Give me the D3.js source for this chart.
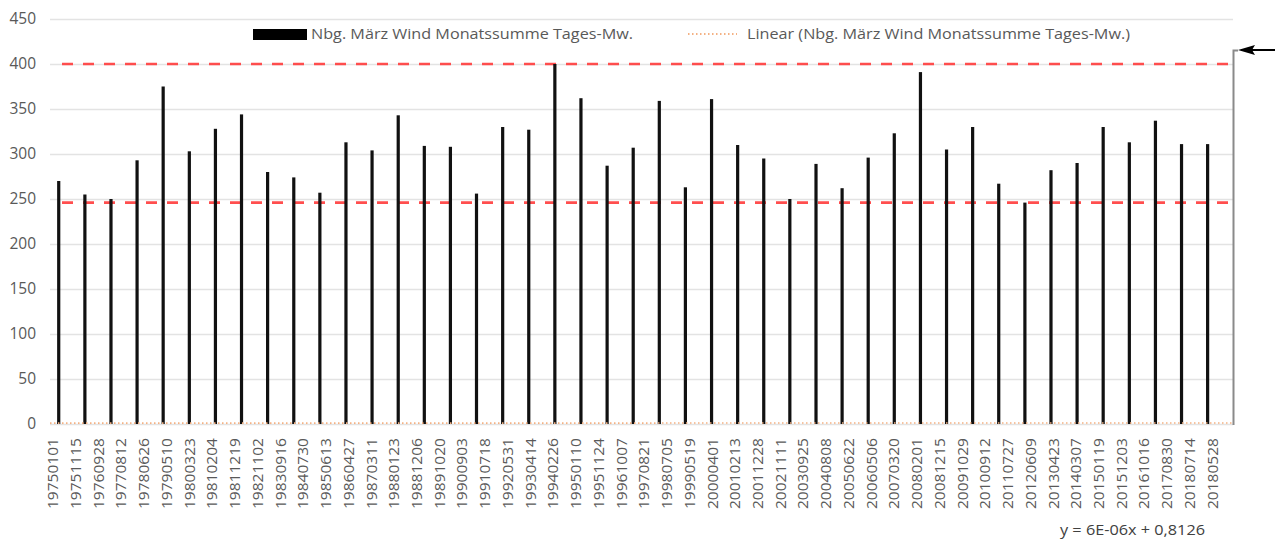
<!DOCTYPE html>
<html>
<head>
<meta charset="utf-8">
<script src="https://cdn.jsdelivr.net/npm/d3@7"></script>
<style>
  body { margin: 0; background: #fff; }
  svg { display: block; font-family: "Open Sans", sans-serif; }
</style>
</head>
<body>
<svg id="chart" width="1275" height="540"></svg>
<script>
/*
 * Nbg. März Wind – Monatssumme Tages-Mittelwerte
 * ========================================================================== */

// March of each year (bars)
const years = [1975, 1976, 1977, 1978, 1979, 1980, 1981, 1982, 1983, 1984,
               1985, 1986, 1987, 1988, 1989, 1990, 1991, 1992, 1993, 1994,
               1995, 1996, 1997, 1998, 1999, 2000, 2001, 2002, 2003, 2004,
               2005, 2006, 2007, 2008, 2009, 2010, 2011, 2012, 2013, 2014,
               2015, 2016, 2017, 2018, 2019];

const windSums = [270, 255, 250, 293, 375, 303, 328, 344, 280, 274,
                  257, 313, 304, 343, 309, 308, 256, 330, 327, 400,
                  362, 287, 307, 359, 263, 361, 310, 295, 250, 289,
                  262, 296, 323, 391, 305, 330, 267, 246, 282, 290,
                  330, 313, 337, 311, 311];

// date axis labels, as printed
const tickLabels = ['19750101', '19751115', '19760928', '19770812', '19780626', '19790510',
                    '19800323', '19810204', '19811219', '19821102', '19830916', '19840730',
                    '19850613', '19860427', '19870311', '19880123', '19881206', '19891020',
                    '19900903', '19910718', '19920531', '19930414', '19940226', '19950110',
                    '19951124', '19961007', '19970821', '19980705', '19990519', '20000401',
                    '20010213', '20011228', '20021111', '20030925', '20040808', '20050622',
                    '20060506', '20070320', '20080201', '20081215', '20091029', '20100912',
                    '20110727', '20120609', '20130423', '20140307', '20150119', '20151203',
                    '20161016', '20170830', '20180714', '20180528'];
const tickStepDays = 318;

const yTicks = [0, 50, 100, 150, 200, 250, 300, 350, 400, 450];

// red reference lines
const refLines = [400, 246];

// linear trend (x = Excel date serial)
const trendSlope = 6e-6,
      trendIntercept = 0.8126;

const legendItems = ['Nbg. März Wind Monatssumme Tages-Mw.',
                     'Linear (Nbg. März Wind Monatssumme Tages-Mw.)'];
const trendLabel = 'y = 6E-06x + 0,8126';

/*
 * Layout
 */
const LEFT = 50, RIGHT = 1233, TOP = 19, BOTTOM = 424;
const DAY = 86400000;
const textColor = '#595959';

const svg = d3.select('#chart');

const x = d3.scaleTime()
            .domain([new Date(1974, 10, 29), new Date(2020, 2, 20)])
            .range([LEFT, RIGHT]);

const y = d3.scaleLinear()
            .domain([0, 450])
            .range([BOTTOM, TOP]);

const barDate = yr => new Date(yr, 2, 31);
const excelSerial = d => (d - new Date(1899, 11, 30)) / DAY;

// Gridlines
svg.append('g')
    .attr('transform', 'translate(' + LEFT + ',0)')
    .call(d3.axisLeft(y).tickValues(yTicks).tickSize(-(RIGHT - LEFT)).tickFormat(''))
    .call(g => g.select('.domain').remove())
    .call(g => g.selectAll('line').attr('stroke', '#e3e3e3').attr('stroke-width', 1.3));

// Y axis labels
svg.append('g')
    .attr('transform', 'translate(' + 36 + ',0)')
    .call(d3.axisLeft(y).tickValues(yTicks).tickSize(0).tickPadding(0))
    .call(g => g.select('.domain').remove())
    .call(g => g.selectAll('text')
                 .attr('fill', textColor)
                 .style('font-size', '15.5px')
                 .style('font-family', '"Open Sans", sans-serif'));

// X axis labels (equally spaced date ticks)
const firstTick = d3.timeParse('%Y%m%d')(tickLabels[0]);
const lastTick = new Date(+firstTick + (tickLabels.length - 1) * tickStepDays * DAY);
const xLabel = d3.scalePoint()
                 .domain(tickLabels)
                 .range([x(firstTick), x(lastTick)]);

svg.append('g')
    .selectAll('text')
    .data(tickLabels)
  .enter().append('text')
    .attr('transform', d => 'translate(' + (xLabel(d) + 0.5) + ',438) rotate(-90)')
    .attr('text-anchor', 'end')
    .attr('dy', '0.36em')
    .attr('fill', textColor)
    .attr('textLength', 71)
    .attr('lengthAdjust', 'spacingAndGlyphs')
    .style('font-size', '15px')
    .text(d => d);

// Red dashed reference lines
svg.append('g')
    .selectAll('line')
    .data(refLines)
  .enter().append('line')
    .attr('x1', LEFT + 12)
    .attr('x2', RIGHT - 1)
    .attr('y1', d => y(d))
    .attr('y2', d => y(d))
    .attr('stroke', '#ff3b3b')
    .attr('stroke-opacity', 0.9)
    .attr('stroke-width', 2.6)
    .attr('stroke-dasharray', '11,10');

// Bars
svg.append('g')
    .selectAll('rect')
    .data(years)
  .enter().append('rect')
    .attr('x', d => x(barDate(d)) - 1.6)
    .attr('width', 3.2)
    .attr('y', (d, i) => y(windSums[i]))
    .attr('height', (d, i) => y(0) - y(windSums[i]))
    .attr('fill', '#111');

// Linear trend line
const trendDates = x.domain();
svg.append('line')
    .attr('x1', x(trendDates[0]))
    .attr('x2', x(trendDates[1]))
    .attr('y1', y(trendSlope * excelSerial(trendDates[0]) + trendIntercept))
    .attr('y2', y(trendSlope * excelSerial(trendDates[1]) + trendIntercept))
    .attr('stroke', '#f4b183')
    .attr('stroke-width', 1.6)
    .attr('stroke-dasharray', '1.5,2.5');

// Right bracket with arrow
svg.append('path')
    .attr('d', 'M' + (RIGHT + 0.5) + ',' + (BOTTOM + 1) + 'V50.5H' + (RIGHT + 5))
    .attr('fill', 'none')
    .attr('stroke', '#8a8a8a')
    .attr('stroke-width', 2);

svg.append('line')
    .attr('x1', 1275).attr('x2', RIGHT + 8)
    .attr('y1', 50).attr('y2', 50)
    .attr('stroke', '#000')
    .attr('stroke-width', 2.2);

svg.append('path')
    .attr('d', 'M' + (RIGHT + 5) + ',50L' + (RIGHT + 22) + ',45L' + (RIGHT + 19) + ',50L' + (RIGHT + 22) + ',55Z')
    .attr('fill', '#000');

// Legend
const legend = svg.append('g');
legend.append('rect')
    .attr('x', 253).attr('y', 29)
    .attr('width', 54).attr('height', 11)
    .attr('fill', '#000');
legend.append('text')
    .attr('x', 311).attr('y', 34)
    .attr('dy', '0.35em')
    .attr('fill', textColor)
    .attr('textLength', 322)
    .attr('lengthAdjust', 'spacingAndGlyphs')
    .style('font-size', '15px')
    .text(legendItems[0]);

legend.append('line')
    .attr('x1', 688).attr('x2', 737)
    .attr('y1', 34).attr('y2', 34)
    .attr('stroke', '#f4b183')
    .attr('stroke-width', 2)
    .attr('stroke-dasharray', '1.5,2.5');
legend.append('text')
    .attr('x', 747).attr('y', 34)
    .attr('dy', '0.35em')
    .attr('fill', textColor)
    .attr('textLength', 383)
    .attr('lengthAdjust', 'spacingAndGlyphs')
    .style('font-size', '15px')
    .text(legendItems[1]);

// Trend equation
svg.append('text')
    .attr('x', 1205).attr('y', 530)
    .attr('dy', '0.35em')
    .attr('text-anchor', 'end')
    .attr('fill', '#404040')
    .attr('textLength', 145)
    .attr('lengthAdjust', 'spacingAndGlyphs')
    .style('font-size', '15px')
    .text(trendLabel);
</script>
</body>
</html>
